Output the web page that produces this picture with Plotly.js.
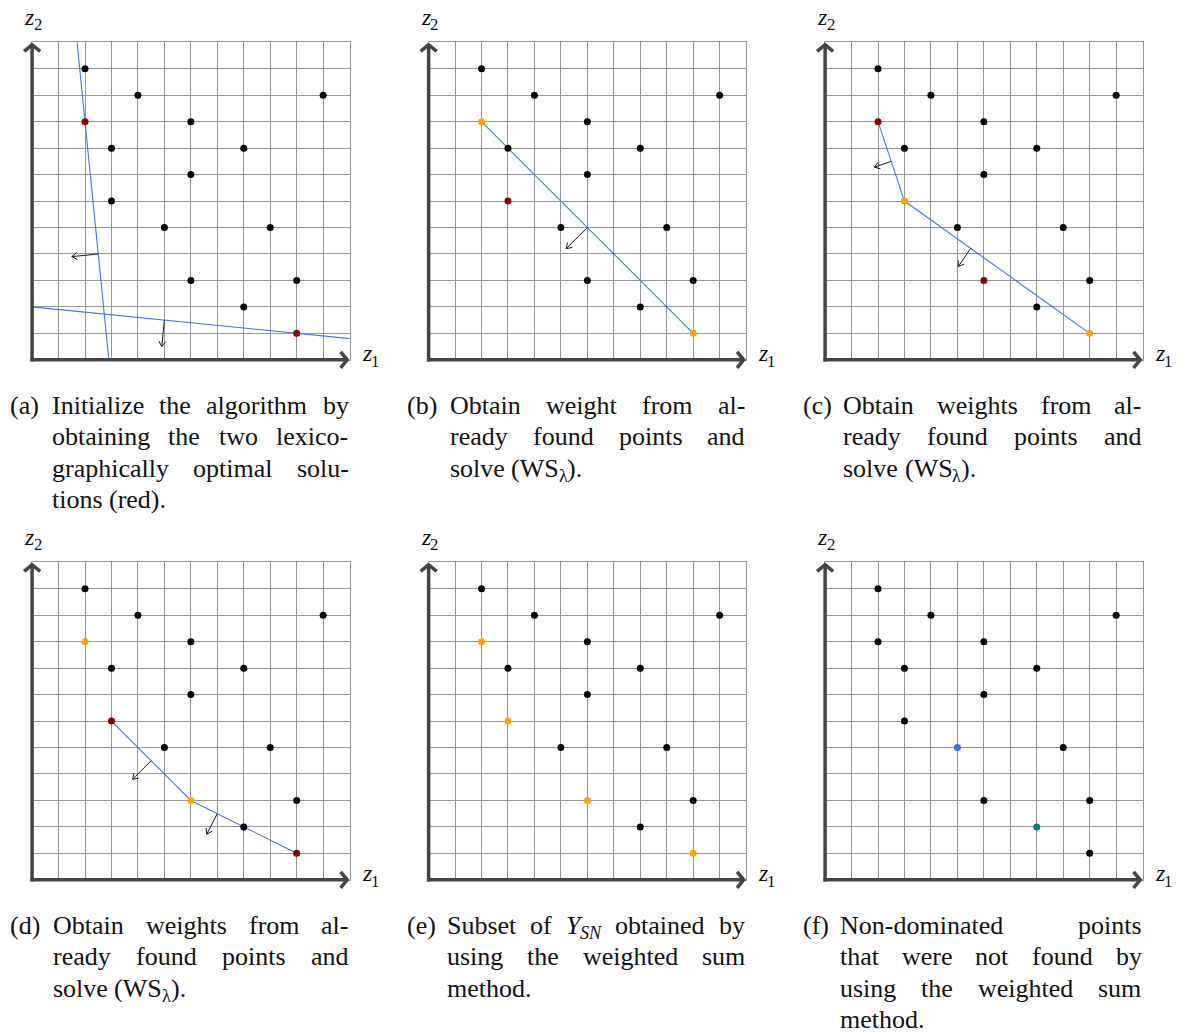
<!DOCTYPE html>
<html><head><meta charset="utf-8">
<script src="https://cdn.plot.ly/plotly-3.0.1.min.js"></script>
<style>body{margin:0;background:#fff}#chart{width:1189px;height:1035px}</style>
</head><body><div id="chart"></div>
<script>
// ---------- DATA ----------
const z1 = [2, 4, 11, 2, 6, 3, 8, 6, 3, 5, 9, 6, 10, 8, 10];
const z2 = [11, 10, 10, 9, 9, 8, 8, 7, 6, 5, 5, 3, 3, 2, 1];
// point roles per panel: k black, r red, o orange, b blue, t teal
const rolesA = ['k','k','k','r','k','k','k','k','k','k','k','k','k','k','r'];
const rolesB = ['k','k','k','o','k','k','k','k','r','k','k','k','k','k','o'];
const rolesC = ['k','k','k','r','k','k','k','k','o','k','k','r','k','k','o'];
const rolesD = ['k','k','k','o','k','k','k','k','r','k','k','o','k','k','r'];
const rolesE = ['k','k','k','o','k','k','k','k','o','k','k','o','k','k','o'];
const rolesF = ['k','k','k','k','k','k','k','k','k','b','k','k','k','t','k'];
// weighted-sum lines (segments [start, end])
const linesA = [[[1.7, 12], [2.9, 0]], [[0, 2], [12, 0.8]]];
const linesB = [[[2, 9], [10, 1]]];
const linesC = [[[2, 9], [3, 6]], [[3, 6], [10, 1]]];
const linesD = [[[3, 6], [6, 3]], [[6, 3], [10, 1]]];
const linesE = [];
const linesF = [];
// normal arrows ([start, end])
const arrowsA = [[[2.5, 4.0], [1.5, 3.9]], [[5.0, 1.5], [4.9, 0.5]]];
const arrowsB = [[[6, 5], [5.2, 4.2]]];
const arrowsC = [[[2.5, 7.5], [1.86, 7.28]], [[5.5, 4.21], [5.03, 3.52]]];
const arrowsD = [[[4.5, 4.5], [3.8, 3.8]], [[7, 2.5], [6.6, 1.72]]];
const arrowsE = [];
const arrowsF = [];
// captions
const captionLabels = ['(a)', '(b)', '(c)', '(d)', '(e)', '(f)'];
const captionA = ['Initialize the algorithm by', 'obtaining the two lexico-', 'graphically optimal solu-', 'tions (red).'];
const captionB = ['Obtain weight from al-', 'ready found points and', 'solve (WS<sub>λ</sub>).'];
const captionC = ['Obtain weights from al-', 'ready found points and', 'solve (WS<sub>λ</sub>).'];
const captionD = ['Obtain weights from al-', 'ready found points and', 'solve (WS<sub>λ</sub>).'];
const captionE = ['Subset of <i>Y</i><sub><i>SN</i></sub> obtained by', 'using the weighted sum', 'method.'];
const captionF = ['Non-dominated points', 'that were not found by', 'using the weighted sum', 'method.'];
const axisLabelX = '<i>z</i><sub>1</sub>';
const axisLabelY = '<i>z</i><sub>2</sub>';

// ---------- STYLE / LAYOUT ----------
const W = 1189, H = 1035;
const X0 = 32.1, Y0 = 359.8, COLSTEP = 396.5, ROWSTEP = 520, SIDE = 317.5;
const GRID = '#979797', AXC = '#444444', BLUE = '#4a72e2';
const COLORS = {k: '#000000', r: '#8b0000', o: '#ffa500', b: '#4169e1', t: '#008080'};
const FONT = "'Liberation Serif', 'Times New Roman', Times, serif";
const ASC = 0.891;
const CAP_FS = 26, LAB_FS = 24;
const CAP_BASE = 414, CAP_LH = 31.5;
const capLabelX = 10.1;
const capTextX = [51.7, 449.6, 843.2, 53.1, 446.7, 839.7];
const capRight = 348.5;

const panels = [
  {roles: rolesA, lines: linesA, arrows: arrowsA, cap: captionA},
  {roles: rolesB, lines: linesB, arrows: arrowsB, cap: captionB},
  {roles: rolesC, lines: linesC, arrows: arrowsC, cap: captionC},
  {roles: rolesD, lines: linesD, arrows: arrowsD, cap: captionD},
  {roles: rolesE, lines: linesE, arrows: arrowsE, cap: captionE},
  {roles: rolesF, lines: linesF, arrows: arrowsF, cap: captionF}
];

const ctx = document.createElement('canvas').getContext('2d');
function parseSegs(html) {
  const segs = [];
  let it = false, sub = false;
  html.split(/(<\/?(?:i|sub)>)/).forEach(tok => {
    if (tok === '<i>') it = true;
    else if (tok === '</i>') it = false;
    else if (tok === '<sub>') sub = true;
    else if (tok === '</sub>') sub = false;
    else if (tok) segs.push({t: tok, it: it, sub: sub});
  });
  return segs;
}
function segSize(s, fs) { return s.sub ? fs * 0.7 : fs; }
function segWidth(s, fs) {
  ctx.font = (s.it ? 'italic ' : '') + segSize(s, fs) + 'px ' + FONT;
  return ctx.measureText(s.t).width;
}
function measure(html, fs) { return parseSegs(html).reduce((a, s) => a + segWidth(s, fs), 0); }

const px = v => v / W, py = v => 1 - v / H;
const traces = [];
const layout = {
  width: W, height: H, margin: {l: 0, r: 0, t: 0, b: 0},
  paper_bgcolor: '#ffffff', plot_bgcolor: '#ffffff', showlegend: false,
  font: {family: FONT},
  shapes: [], annotations: []
};
function ann(x, yTop, text, size, italic) {
  layout.annotations.push({
    xref: 'paper', yref: 'paper', x: px(x), y: py(yTop), text: text,
    xanchor: 'left', yanchor: 'top', showarrow: false,
    borderpad: 0, borderwidth: 0,
    font: {family: FONT, size: size, color: '#111111', style: italic ? 'italic' : 'normal'}
  });
}
// place a (possibly marked-up) word with its baseline at `base`
function placeText(x, base, html, fs) {
  parseSegs(html).forEach(s => {
    const size = segSize(s, fs);
    const bl = base + (s.sub ? 0.2 * fs : 0);
    ann(x, bl - ASC * size, s.t, size, s.it);
    x += segWidth(s, fs);
  });
}

panels.forEach((p, i) => {
  const c = i % 3, r = Math.floor(i / 3);
  const sfx = i === 0 ? '' : String(i + 1);
  const xa = 'x' + sfx, ya = 'y' + sfx;
  const x0 = X0 + COLSTEP * c, yO = Y0 + ROWSTEP * r;
  const xr = x0 + SIDE, yT = yO - SIDE;
  const axBase = {range: [0, 12], dtick: 1, tick0: 0, showgrid: true, gridcolor: GRID, gridwidth: 1,
    zeroline: false, showticklabels: false, ticks: '', showline: true, mirror: true,
    linecolor: GRID, linewidth: 1, fixedrange: true};
  layout['xaxis' + sfx] = Object.assign({}, axBase, {domain: [px(x0), px(xr)], anchor: ya});
  layout['yaxis' + sfx] = Object.assign({}, axBase, {domain: [py(yO), py(yT)], anchor: xa});

  p.lines.forEach(seg => traces.push({
    type: 'scatter', mode: 'lines', xaxis: xa, yaxis: ya, hoverinfo: 'skip',
    x: [seg[0][0], seg[1][0]], y: [seg[0][1], seg[1][1]],
    line: {color: BLUE, width: 1.1}
  }));
  p.arrows.forEach(a => {
    const [s, e] = a;
    const dx = e[0] - s[0], dy = e[1] - s[1], L = Math.hypot(dx, dy);
    const ux = dx / L, uy = dy / L, hl = 0.2, hw = 0.13;
    const bx = e[0] - ux * hl, by = e[1] - uy * hl;
    traces.push({
      type: 'scatter', mode: 'lines', xaxis: xa, yaxis: ya, hoverinfo: 'skip',
      x: [s[0], e[0], null, bx - uy * hw, e[0], bx + uy * hw],
      y: [s[1], e[1], null, by + ux * hw, e[1], by - ux * hw],
      line: {color: '#1a1a1a', width: 1}
    });
  });
  traces.push({
    type: 'scatter', mode: 'markers', xaxis: xa, yaxis: ya, hoverinfo: 'skip', cliponaxis: false,
    x: z1, y: z2, marker: {size: 7, color: p.roles.map(k => COLORS[k]), line: {width: 0}}
  });

  // axes with arrows
  const sh = (o) => layout.shapes.push(Object.assign({xref: 'paper', yref: 'paper', layer: 'above',
    line: {color: AXC, width: 3.5}}, o));
  sh({type: 'line', x0: px(x0 - 1.75), y0: py(yO), x1: px(xr - 2), y1: py(yO)});
  sh({type: 'path', path: `M ${px(xr - 9)},${py(yO - 8)} L ${px(xr - 2.4)},${py(yO)} L ${px(xr - 9)},${py(yO + 8)}`});
  sh({type: 'line', x0: px(x0), y0: py(yO + 1.75), x1: px(x0), y1: py(yT + 2)});
  sh({type: 'path', path: `M ${px(x0 - 8)},${py(yT + 9)} L ${px(x0)},${py(yT + 2.4)} L ${px(x0 + 8)},${py(yT + 9)}`});

  // axis labels
  placeText(xr + 12, yO + 2, axisLabelX, LAB_FS);
  placeText(x0 + 1 - measure(axisLabelY, LAB_FS) / 2, yT - 17.4, axisLabelY, LAB_FS);

  // caption
  const lx = capLabelX + COLSTEP * c;
  const left = capTextX[i], right = capRight + COLSTEP * c;
  const base0 = CAP_BASE + ROWSTEP * r;
  placeText(lx, base0, captionLabels[i], CAP_FS);
  const spaceW = measure(' ', CAP_FS);
  p.cap.forEach((line, li) => {
    const words = line.split(' ');
    const widths = words.map(w => measure(w, CAP_FS));
    const total = widths.reduce((a, b) => a + b, 0);
    const last = li === p.cap.length - 1;
    const gap = (!last && words.length > 1) ? (right - left - total) / (words.length - 1) : spaceW;
    let x = left;
    const base = base0 + CAP_LH * li;
    words.forEach((w, wi) => { placeText(x, base, w, CAP_FS); x += widths[wi] + gap; });
  });
});

Plotly.newPlot('chart', traces, layout, {staticPlot: true, displayModeBar: false});
</script>
</body></html>
